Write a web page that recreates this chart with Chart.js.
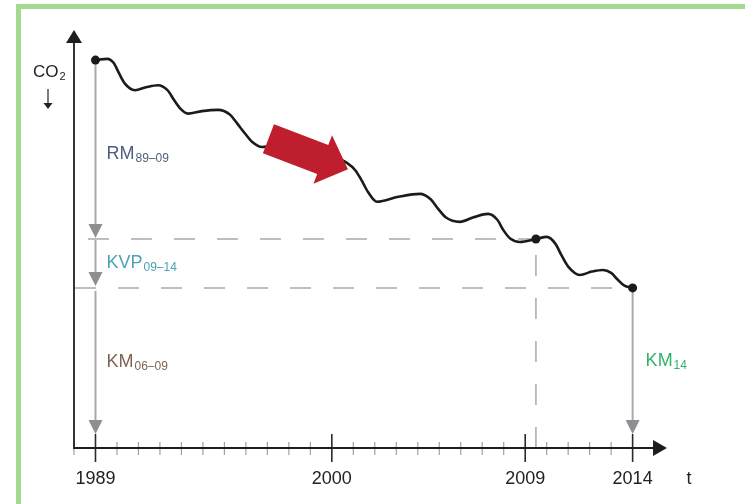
<!DOCTYPE html>
<html lang="de">
<head>
<meta charset="UTF-8">
<title>CO2 Reduktion</title>
<script src="https://cdn.jsdelivr.net/npm/chart.js@4.4.1/dist/chart.umd.min.js"></script>
<style>
  html, body { margin: 0; padding: 0; background: #fff; }
  #wrap { position: relative; width: 745px; height: 504px; overflow: hidden; }
  /* green frame, runs off the right and bottom edge */
  #frame {
    position: absolute; left: 16px; top: 4px; width: 780px; height: 560px;
    border: 5px solid #a4d98f; box-sizing: border-box;
  }
  canvas { position: absolute; left: 0; top: 0; }
</style>
</head>
<body>
<div id="wrap">
  <div id="frame"></div>
  <canvas id="chart" width="745" height="504"></canvas>
</div>
<script>
// wavy CO2 path (year, index value)
const curveYears = [1989, 1989.55, 1989.85, 1990.1, 1990.35, 1990.84, 1991.35, 1991.91,
  1992.35, 1992.65, 1992.95, 1993.3, 1993.95, 1994.7, 1995.25, 1995.6, 1995.95, 1996.3, 1996.75,
  1997.5, 1998.2, 1999.0, 1999.7, 2000.7, 2001.1, 2001.4, 2001.7, 2002.1, 2003.1, 2004.1,
  2004.6, 2004.95, 2005.3, 2005.96, 2006.6, 2007.27, 2007.7, 2008.0, 2008.3, 2008.75,
  2009.5, 2010.01, 2010.4, 2010.7, 2011.0, 2011.55, 2012.1, 2012.62, 2013.0, 2013.3, 2013.6, 2014];
const curveValues = [92.8, 93.1, 92.1, 89.6, 87.3, 85.6, 86.3, 86.8,
  85.6, 83.3, 81.2, 80.0, 80.6, 80.9, 79.8, 77.6, 75.3, 73.2, 72.0,
  72.9, 73.8, 72.6, 70.5, 68.2, 66.4, 63.9, 61.1, 58.9, 60.1, 60.8,
  59.5, 57.2, 55.2, 54.1, 55.2, 56.0, 54.6, 52.0, 50.1, 49.3,
  50.0, 50.5, 48.9, 46.0, 43.4, 41.4, 42.2, 42.6, 41.9, 40.3, 38.9, 38.3];

// the three black dots
const markerYears = [1989, 2009.5, 2014];
const markerValues = [92.8, 50.0, 38.3];

// x axis
const majorYears = [1989, 2000, 2009, 2014];
const yearLabels = ["1989", "2000", "2009", "2014"];

// labels of the level arrows
const levelNames = ["RM", "KVP", "KM", "KM"];
const levelSubs = ["89–09", "09–14", "06–09", "14"];
const levelColors = ["#4f5e7b", "#4aa2b4", "#7f6453", "#2fb46b"];

// red trend arrow (tail -> tip)
const trendFrom = [1997.05, 74.0];
const trendTo = [2000.75, 66.7];

const FONT = '"Liberation Sans", Arial, Helvetica, sans-serif';

function pts(xs, ys) {
  return xs.map((v, i) => ({ x: v, y: ys[i] }));
}

function grayArrow(ctx, x, yTop, yTip) {
  ctx.save();
  ctx.strokeStyle = "#a9a9a9";
  ctx.lineWidth = 2;
  ctx.beginPath();
  ctx.moveTo(x, yTop);
  ctx.lineTo(x, yTip - 10);
  ctx.stroke();
  ctx.fillStyle = "#8e8f92";
  ctx.beginPath();
  ctx.moveTo(x - 7, yTip - 14);
  ctx.lineTo(x + 7, yTip - 14);
  ctx.lineTo(x, yTip);
  ctx.closePath();
  ctx.fill();
  ctx.restore();
}

function subText(ctx, x, y, main, sub, color, size) {
  ctx.fillStyle = color;
  ctx.textAlign = "left";
  ctx.textBaseline = "alphabetic";
  ctx.font = size + "px " + FONT;
  ctx.fillText(main, x, y);
  const w = ctx.measureText(main).width;
  ctx.font = Math.round(size * 0.64) + "px " + FONT;
  ctx.fillText(sub, x + w + 1, y + 3);
}

const sketch = {
  id: "sketch",
  beforeDatasetsDraw(chart) {
    const { ctx, scales: { x, y } } = chart;
    const x0 = x.getPixelForValue(markerYears[0]);
    const x1 = x.getPixelForValue(markerYears[2]);
    const yStart = y.getPixelForValue(markerValues[0]);
    const yKvp = y.getPixelForValue(markerValues[1]);
    const yKm = y.getPixelForValue(markerValues[2]);
    const yAxis = y.getPixelForValue(0);
    grayArrow(ctx, x0, yStart, yKvp - 1);
    grayArrow(ctx, x0, yKvp + 1, yKm - 2);
    grayArrow(ctx, x0, yKm + 3, yAxis - 14);
    grayArrow(ctx, x1, yKm, yAxis - 14);
  },
  afterDatasetsDraw(chart) {
    const { ctx, chartArea: area, scales: { x, y } } = chart;
    const yAxis = y.getPixelForValue(0);
    const xAxis = area.left;

    // red arrow
    const tx = x.getPixelForValue(trendFrom[0]), ty = y.getPixelForValue(trendFrom[1]);
    const hx = x.getPixelForValue(trendTo[0]), hy = y.getPixelForValue(trendTo[1]);
    const len = Math.hypot(hx - tx, hy - ty);
    const ux = (hx - tx) / len, uy = (hy - ty) / len;
    const nx = -uy, ny = ux;
    const bw = 15.5, hw = 26, hl = 27;
    const kx = hx - ux * hl, ky = hy - uy * hl;
    ctx.save();
    ctx.fillStyle = "#be1e2d";
    ctx.beginPath();
    ctx.moveTo(tx + nx * bw, ty + ny * bw);
    ctx.lineTo(kx + nx * bw, ky + ny * bw);
    ctx.lineTo(kx + nx * hw, ky + ny * hw);
    ctx.lineTo(hx, hy);
    ctx.lineTo(kx - nx * hw, ky - ny * hw);
    ctx.lineTo(kx - nx * bw, ky - ny * bw);
    ctx.lineTo(tx - nx * bw, ty - ny * bw);
    ctx.closePath();
    ctx.fill();

    // ticks: every year, long ones at the labelled years
    for (let yr = Math.ceil(x.min); yr <= 2014; yr++) {
      const px = x.getPixelForValue(yr);
      const major = majorYears.includes(yr);
      ctx.strokeStyle = major ? "#2b2b2b" : "#a0a0a0";
      ctx.lineWidth = major ? 1.6 : 1.2;
      ctx.beginPath();
      ctx.moveTo(px, yAxis - (major ? 14 : 6));
      ctx.lineTo(px, yAxis + (major ? 14 : 7));
      ctx.stroke();
    }

    // axes with arrow heads
    ctx.strokeStyle = "#1e1e1e";
    ctx.fillStyle = "#1e1e1e";
    ctx.lineWidth = 1.8;
    ctx.beginPath();
    ctx.moveTo(xAxis, area.top + 12);
    ctx.lineTo(xAxis, yAxis);
    ctx.lineTo(area.right - 12, yAxis);
    ctx.stroke();
    ctx.beginPath();
    ctx.moveTo(xAxis - 8, area.top + 13);
    ctx.lineTo(xAxis + 8, area.top + 13);
    ctx.lineTo(xAxis, area.top);
    ctx.closePath();
    ctx.fill();
    ctx.beginPath();
    ctx.moveTo(area.right - 14, yAxis - 8);
    ctx.lineTo(area.right - 14, yAxis + 8);
    ctx.lineTo(area.right, yAxis);
    ctx.closePath();
    ctx.fill();

    // year labels and t
    ctx.font = "18px " + FONT;
    ctx.textAlign = "center";
    ctx.textBaseline = "alphabetic";
    ctx.fillStyle = "#222";
    majorYears.forEach((yr, i) => {
      ctx.fillText(yearLabels[i], x.getPixelForValue(yr), yAxis + 36);
    });
    ctx.fillText("t", area.right + 22, yAxis + 36);

    // CO2 with small down arrow
    subText(ctx, 33, 77, "CO", "2", "#222", 17);
    ctx.strokeStyle = "#222";
    ctx.lineWidth = 1.2;
    ctx.beginPath();
    ctx.moveTo(48, 89);
    ctx.lineTo(48, 104);
    ctx.stroke();
    ctx.beginPath();
    ctx.moveTo(43.5, 103);
    ctx.lineTo(52.5, 103);
    ctx.lineTo(48, 109);
    ctx.closePath();
    ctx.fill();

    // level labels
    const x0 = x.getPixelForValue(markerYears[0]);
    const x1 = x.getPixelForValue(markerYears[2]);
    const yKvp = y.getPixelForValue(markerValues[1]);
    const yKm = y.getPixelForValue(markerValues[2]);
    subText(ctx, x0 + 11, yKvp - 80, levelNames[0], levelSubs[0], levelColors[0], 18);
    subText(ctx, x0 + 11, yKm - 20, levelNames[1], levelSubs[1], levelColors[1], 18);
    subText(ctx, x0 + 11, yKm + 79, levelNames[2], levelSubs[2], levelColors[2], 18);
    subText(ctx, x1 + 13, yKm + 78, levelNames[3], levelSubs[3], levelColors[3], 18);
    ctx.restore();
  }
};

const guideStyle = {
  borderColor: "#a9a9a9",
  borderWidth: 1.5,
  borderDash: [21, 22],
  pointRadius: 0,
  tension: 0,
  order: 3,
  clip: false
};

new Chart(document.getElementById("chart"), {
  type: "line",
  data: {
    datasets: [
      {
        label: "CO2",
        data: pts(curveYears, curveValues),
        borderColor: "#1b1b1b",
        borderWidth: 2.6,
        pointRadius: 0,
        cubicInterpolationMode: "monotone",
        order: 1,
        clip: false
      },
      {
        label: "markers",
        data: pts(markerYears, markerValues),
        showLine: false,
        pointRadius: 4.5,
        pointBackgroundColor: "#1b1b1b",
        pointBorderWidth: 0,
        order: 0,
        clip: false
      },
      Object.assign({ label: "KVP level", data: [{ x: 1988.65, y: markerValues[1] }, { x: markerYears[1], y: markerValues[1] }] }, guideStyle),
      Object.assign({ label: "KM level", data: [{ x: 1988.05, y: markerValues[2] }, { x: markerYears[2], y: markerValues[2] }] }, guideStyle),
      Object.assign({ label: "2009 drop", data: [{ x: markerYears[1], y: 0 }, { x: markerYears[1], y: markerValues[1] }] }, guideStyle)
    ]
  },
  options: {
    responsive: false,
    animation: false,
    layout: { padding: { left: 74, right: 78, top: 30, bottom: 56 } },
    scales: {
      x: { type: "linear", min: 1988, max: 2015.6, display: false },
      y: { min: 0, max: 100, display: false }
    },
    plugins: { legend: { display: false }, tooltip: { enabled: false } }
  },
  plugins: [sketch]
});
</script>
</body>
</html>
